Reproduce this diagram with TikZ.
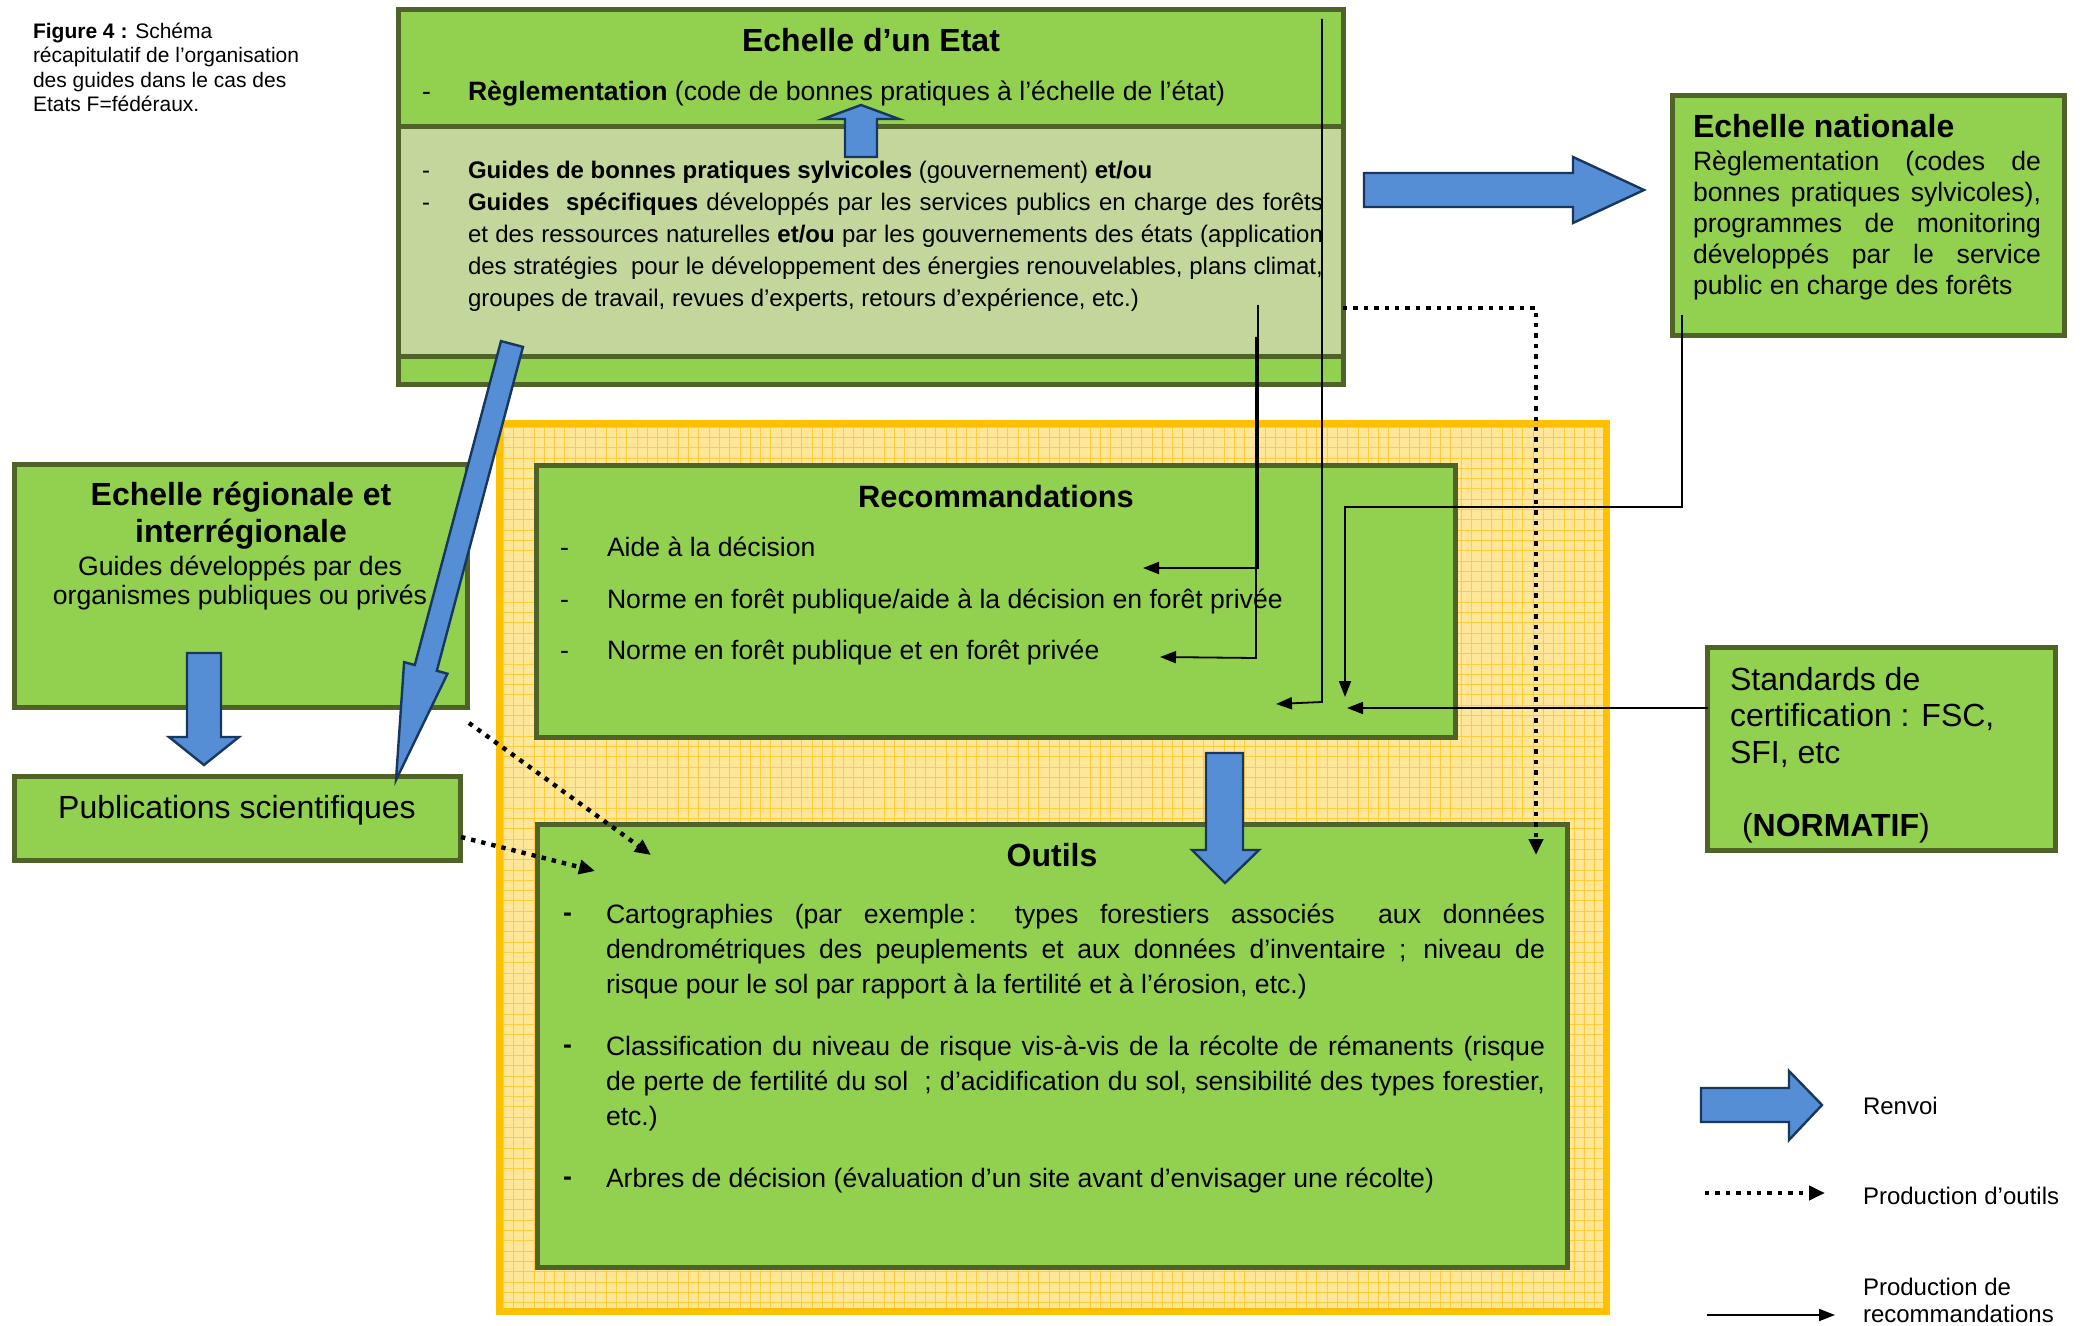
\documentclass[tikz,border=0pt]{standalone}
\usepackage{fontspec}
\setmainfont{Liberation Sans}
\usetikzlibrary{arrows.meta,fit}
\definecolor{boxgreen}{HTML}{92D050}
\definecolor{boxborder}{HTML}{4F6228}
\definecolor{lightgreen}{HTML}{C3D69B}
\definecolor{arrowblue}{HTML}{558ED5}
\definecolor{arrowedge}{HTML}{17375E}
\definecolor{yelfill}{HTML}{FFE699}
\definecolor{yelgrid}{HTML}{FFCC3A}
\definecolor{yelborder}{HTML}{FFC000}
\newcommand{\fBody}{\fontsize{13.3}{15.3}\selectfont}
\newcommand{\fSmall}{\fontsize{12}{13.8}\selectfont}
\newcommand{\fTitle}{\fontsize{16}{18.4}\selectfont\bfseries}
\newcommand{\fBig}{\fontsize{16}{18.4}\selectfont}
\newcommand{\fCap}{\fontsize{10.5}{12}\selectfont}
\begin{document}
\begin{tikzpicture}[x=0.5pt,y=-0.5pt,
  greenbox/.style={draw=boxborder, line width=2.5pt, fill=boxgreen, inner sep=0pt, outer sep=0pt},
  txt/.style={inner sep=0pt, outer sep=0pt, anchor=base west},
  ctxt/.style={inner sep=0pt, outer sep=0pt, anchor=base},
  bluearrow/.style={fill=arrowblue, draw=arrowedge, line width=1.2pt, line join=miter},
  recline/.style={line width=0.9pt, -{Triangle[length=8pt,width=6pt]}},
  toolline/.style={line width=2.2pt, dash pattern=on 2.2pt off 3pt, -{Triangle[length=8pt,width=7pt]}}]
\useasboundingbox[fill=white] (0,0) rectangle (2083,1326);

% caption
\node[txt,font=\fCap] (cap1) at (33,38.5) {\textbf{Figure 4 :} Schéma};
\node[txt,font=\fCap] (cap2) at (33,63) {récapitulatif de l’organisation};
\node[txt,font=\fCap] (cap3) at (33,87.5) {des guides dans le cas des};
\node[txt,font=\fCap] (cap4) at (33,112) {Etats F=fédéraux.};

% yellow area
\node[fill=yelfill, inner sep=0pt, outer sep=0pt, fit={(499.5,423.5) (1606.5,1311.5)}] (yel) {};
\begin{scope}
  \clip (499.5,423.5) rectangle (1606.5,1311.5);
  \foreach \i in {0,...,108} {\draw[yelgrid, line width=0.35pt] ({503+10.3*\i},420) -- ++(0,900);}
  \foreach \j in {0,...,87} {\draw[yelgrid, line width=0.35pt] (496,{427+10.3*\j}) -- ++(1120,0);}
\end{scope}
\draw[yelborder, line width=3.5pt] (yel.north west) rectangle (yel.south east);

% boxes
\node[greenbox, fit={(398.5,9.5) (1343.5,384.5)}] (etat) {};
\node[greenbox, fill=lightgreen, fit={(398.5,127) (1343.5,357)}] (etatlight) {};
\node[greenbox, fit={(1672.5,95.5) (2064.5,335.5)}] (nat) {};
\node[greenbox, fit={(14.5,464.5) (467.5,707.5)}] (reg) {};
\node[greenbox, fit={(14.5,776.5) (460.5,860.5)}] (pub) {};
\node[greenbox, fit={(536.5,465.5) (1455.5,737.5)}] (rec) {};
\node[greenbox, fit={(537.5,824.5) (1567.5,1267.5)}] (out) {};
\node[greenbox, fit={(1707.5,647.5) (2055.5,850.5)}] (std) {};

% Etat texts
\node[ctxt,font=\fTitle] (etT) at (871,51.5) {Echelle d’un Etat};
\node[txt,font=\fBody] (etD1) at (422,101) {-};
\node[txt,font=\fBody] (etR) at (468,101) {\textbf{Règlementation} (code de bonnes pratiques à l’échelle de l’état)};
\node[txt,font=\fSmall] (etD2) at (422,178.5) {-};
\node[txt,font=\fSmall] (etL1) at (468,178.5) {\textbf{Guides de bonnes pratiques sylvicoles} (gouvernement) \textbf{et/ou}};
\node[txt,font=\fSmall] (etD3) at (422,210.5) {-};
\node[txt,font=\fSmall] (etL2) at (468,210.5) {\makebox[427.5pt][s]{\textbf{Guides~ spécifiques} développés par les services publics en charge des forêts}};
\node[txt,font=\fSmall] (etL3) at (468,242.5) {\makebox[427.5pt][s]{et des ressources naturelles \textbf{et/ou} par les gouvernements des états (application}};
\node[txt,font=\fSmall] (etL4) at (468,274.5) {\makebox[427.5pt][s]{des stratégies~ pour le développement des énergies renouvelables, plans climat,}};
\node[txt,font=\fSmall] (etL5) at (468,306.5) {groupes de travail, revues d’experts, retours d’expérience, etc.)};

% nationale texts
\node[txt,font=\fTitle] (naT) at (1693,138) {Echelle nationale};
\node[txt,font=\fBody] (naL1) at (1693,171) {\makebox[174pt][s]{Règlementation (codes de}};
\node[txt,font=\fBody] (naL2) at (1693,201.9) {\makebox[174pt][s]{bonnes pratiques sylvicoles),}};
\node[txt,font=\fBody] (naL3) at (1693,232.8) {\makebox[174pt][s]{programmes de monitoring}};
\node[txt,font=\fBody] (naL4) at (1693,263.7) {\makebox[174pt][s]{développés par le service}};
\node[txt,font=\fBody] (naL5) at (1693,294.6) {public en charge des forêts};

% regionale texts
\node[ctxt,font=\fTitle] (reT1) at (241,506) {Echelle régionale et};
\node[ctxt,font=\fTitle] (reT2) at (241,542) {interrégionale};
\node[ctxt,font=\fBody] (reB1) at (240,575) {Guides développés par des};
\node[ctxt,font=\fBody] (reB2) at (240,604) {organismes publiques ou privés};

% publications
\node[ctxt,font=\fBig] (puT) at (237,818) {Publications scientifiques};

% recommandations
\node[ctxt,font={\fontsize{15.4}{17.7}\selectfont\bfseries}] (rcT) at (996,508) {Recommandations};
\node[txt,font=\fBody] (rcD1) at (560,556) {-};
\node[txt,font=\fBody] (rcL1) at (607,556) {Aide à la décision};
\node[txt,font=\fBody] (rcD2) at (560,608) {-};
\node[txt,font=\fBody] (rcL2) at (607,608) {Norme en forêt publique/aide à la décision en forêt privée};
\node[txt,font=\fBody] (rcD3) at (560,659) {-};
\node[txt,font=\fBody] (rcL3) at (607,659) {Norme en forêt publique et en forêt privée};

% outils
\node[ctxt,font=\fTitle] (ouT) at (1052,866) {Outils};
\node[txt,font=\fBody\bfseries] (ouD1) at (563,921) {-};
\node[txt,font=\fBody] (ouL1) at (606,923) {\makebox[469.5pt][s]{Cartographies (par exemple\,: types forestiers associés~ aux données}};
\node[txt,font=\fBody] (ouL2) at (606,958) {\makebox[469.5pt][s]{dendrométriques des peuplements et aux données d’inventaire ; niveau de}};
\node[txt,font=\fBody] (ouL3) at (606,993) {risque pour le sol par rapport à la fertilité et à l’érosion, etc.)};
\node[txt,font=\fBody\bfseries] (ouD2) at (563,1053) {-};
\node[txt,font=\fBody] (ouL4) at (606,1055) {\makebox[469.5pt][s]{Classification du niveau de risque vis-à-vis de la récolte de rémanents (risque}};
\node[txt,font=\fBody] (ouL5) at (606,1090) {\makebox[469.5pt][s]{de perte de fertilité du sol~ ; d’acidification du sol, sensibilité des types forestier,}};
\node[txt,font=\fBody] (ouL6) at (606,1125) {etc.)};
\node[txt,font=\fBody\bfseries] (ouD3) at (563,1185) {-};
\node[txt,font=\fBody] (ouL7) at (606,1187) {Arbres de décision (évaluation d’un site avant d’envisager une récolte)};

% standards
\node[txt,font=\fBig] (stL1) at (1730,690) {Standards de};
\node[txt,font=\fBig] (stL2) at (1730,726.5) {certification : FSC,};
\node[txt,font=\fBig] (stL3) at (1730,763) {SFI, etc};
\node[txt,font=\fBig] (stL4) at (1742,836.5) {(\textbf{NORMATIF})};

% legend texts
\node[txt,font=\fSmall] (lgA) at (1863,1114) {Renvoi};
\node[txt,font=\fSmall] (lgB) at (1863,1204) {Production d’outils};
\node[txt,font=\fSmall] (lgC1) at (1863,1295) {Production de};
\node[txt,font=\fSmall] (lgC2) at (1863,1322) {recommandations};

% blue block arrows
\draw[bluearrow] (1364,173) -- (1573,173) -- (1573,157) -- (1644,190) -- (1573,223) -- (1573,207) -- (1364,207) -- cycle;
\draw[bluearrow] (845,157) -- (845,119) -- (823,119) -- (861,105) -- (899,119) -- (877,119) -- (877,157) -- cycle;
\draw[bluearrow] (187,653) -- (221,653) -- (221,737) -- (239,737) -- (204,765) -- (169,737) -- (187,737) -- cycle;
\draw[bluearrow] (1206,753) -- (1243,753) -- (1243,850) -- (1259,850) -- (1225,883) -- (1192,850) -- (1206,850) -- cycle;
\draw[bluearrow] (501,341.1) -- (414.8,665) -- (404.1,662.1) -- (396,780) -- (447.5,673.7) -- (436.8,670.8) -- (523,346.9) -- cycle;
\draw[bluearrow] (1701,1088) -- (1789,1088) -- (1789,1071) -- (1822,1105) -- (1789,1140) -- (1789,1122) -- (1701,1122) -- cycle;

% connector coordinates
\coordinate (a1) at (1322,19);
\coordinate (a2) at (1322,702);
\coordinate (a3) at (1276,704);
\coordinate (b1) at (1258,305);
\coordinate (b2) at (1258,568);
\coordinate (b3) at (1143,568);
\coordinate (c1) at (1256,337);
\coordinate (c2) at (1256,658);
\coordinate (c3) at (1160,657);
\coordinate (d1) at (1682,315);
\coordinate (d2) at (1682,507);
\coordinate (d3) at (1345,507);
\coordinate (d4) at (1345,697);
\coordinate (e1) at (std.west |- 0,708);
\coordinate (e2) at (1347,708);
\coordinate (f1) at (1343,308);
\coordinate (f2) at (1536,308);
\coordinate (f3) at (1536,855);
\coordinate (g1) at (469,723);
\coordinate (g2) at (651,855);
\coordinate (h1) at (461,837);
\coordinate (h2) at (595,871);
\coordinate (la1) at (1705,1193);
\coordinate (la2) at (1825,1193);
\coordinate (lb1) at (1707,1315);
\coordinate (lb2) at (1835,1315);

% recommendation connectors
\draw[recline] (a1) -- (a2) -- (a3);
\draw[recline] (b1) -- (b2) -- (b3);
\draw[recline] (c1) -- (c2) -- (c3);
\draw[recline] (d1) -- (d2) -- (d3) -- (d4);
\draw[recline] (e1) -- (e2);
\draw[recline] (lb1) -- (lb2);

% tool connectors
\draw[toolline] (f1) -- (f2) -- (f3);
\draw[toolline] (g1) -- (g2);
\draw[toolline] (h1) -- (h2);
\draw[toolline] (la1) -- (la2);
\end{tikzpicture}
\end{document}
